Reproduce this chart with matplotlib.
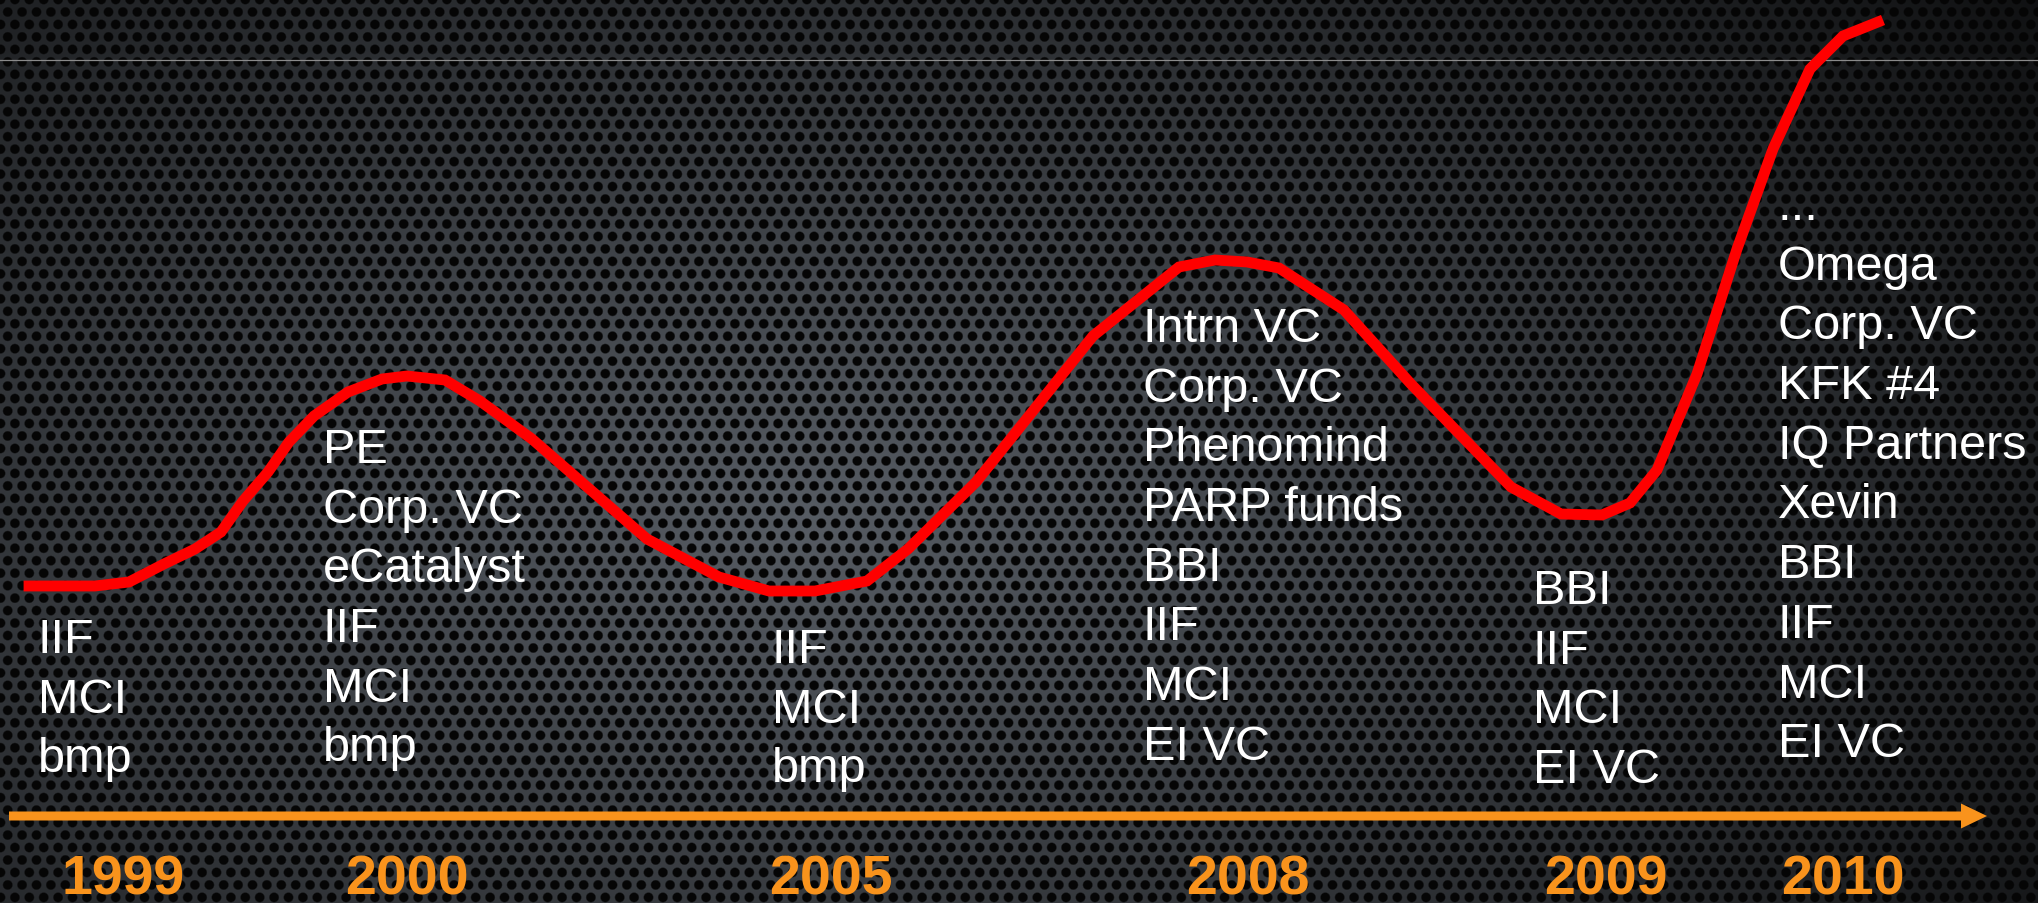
import matplotlib.pyplot as plt
import numpy as np
from matplotlib.patches import FancyArrow

# funding curve (x position, screen row; smaller row = higher level)
curve_x = [29, 95, 129, 164, 195, 221, 243, 268, 289, 314, 348, 382, 407, 445, 480, 532,
           647, 719, 769, 815, 867, 908, 976, 1093, 1179, 1215, 1247, 1279, 1344, 1411,
           1511, 1561, 1602, 1630, 1657, 1697, 1737, 1773, 1810, 1843, 1878]
curve_y = [587, 587, 583, 565, 550, 533, 502, 473, 443, 417, 393, 380, 377, 381, 402, 440,
           540, 578, 592, 592, 582, 550, 483, 337, 268, 261, 263, 269, 311, 385,
           488, 515, 516, 504, 471, 375, 250, 150, 70, 37, 23]

years = ["1999", "2000", "2005", "2008", "2009", "2010"]
year_x = [123, 407, 831, 1248, 1606, 1843]

investors = [
    ["IIF", "MCI", "bmp"],
    ["PE", "Corp. VC", "eCatalyst", "IIF", "MCI", "bmp"],
    ["IIF", "MCI", "bmp"],
    ["Intrn VC", "Corp. VC", "Phenomind", "PARP funds", "BBI", "IIF", "MCI", "EI VC"],
    ["BBI", "IIF", "MCI", "EI VC"],
    ["...", "Omega", "Corp. VC", "KFK #4", "IQ Partners", "Xevin", "BBI", "IIF", "MCI", "EI VC"],
]
group_left = [38, 323, 772, 1143, 1533, 1778]
group_first_baseline = [653, 463, 663, 342, 604, 220]

W, H = 2038, 904
ORANGE = "#f9931c"

# perforated metal background
yy, xx = np.mgrid[0:H, 0:W].astype(float)
p = 14.4
h = p * np.sqrt(3) / 2


def cell_dist(x0, y0):
    dx = (xx - x0) % p - p / 2
    dy = (yy - y0) % (2 * h) - h
    return np.hypot(dx, dy)


dist = np.minimum(cell_dist(0, 0), cell_dist(p / 2, h))
hole = np.clip((p * 0.33 - dist) / 1.4 + 0.5, 0, 1)
r = np.hypot((xx - 800) / 1300, (yy - 520) / 700)
metal = 92 - 62 * np.clip(r, 0, 1.2)
bg = np.zeros((H, W, 3))
for i, tint in enumerate([0.94, 1.0, 1.08]):
    bg[..., i] = metal * tint * (1 - hole) + 5 * hole
bg = np.clip(bg, 0, 255) / 255

fig = plt.figure(figsize=(W / 100, H / 100), dpi=100)
ax = fig.add_axes([0, 0, 1, 1])
ax.imshow(bg, extent=(0, W, H, 0), aspect="auto", zorder=0)
ax.set_xlim(0, W)
ax.set_ylim(H, 0)
ax.axis("off")

# thin divider near the top
ax.axhline(61, color="#8a8a8a", lw=0.9, zorder=1)

# timeline arrow
ax.add_patch(FancyArrow(9, 817, 1978, 0, width=9, head_width=25, head_length=26,
                        length_includes_head=True, color=ORANGE, lw=0, zorder=2))

ax.plot(curve_x, curve_y, color="#ff0000", lw=7.8, solid_joinstyle="miter", zorder=3)

for names, x0, b0 in zip(investors, group_left, group_first_baseline):
    for i, name in enumerate(names):
        ax.text(x0, b0 + i * 59.7, name, color="white", fontsize=35,
                family="Liberation Sans", va="baseline", ha="left", zorder=4)

for label, x in zip(years, year_x):
    ax.text(x, 895, label, color=ORANGE, fontsize=40, fontweight="bold",
            family="Liberation Sans", va="baseline", ha="center", zorder=4)

fig.savefig("out.png", dpi=100)
